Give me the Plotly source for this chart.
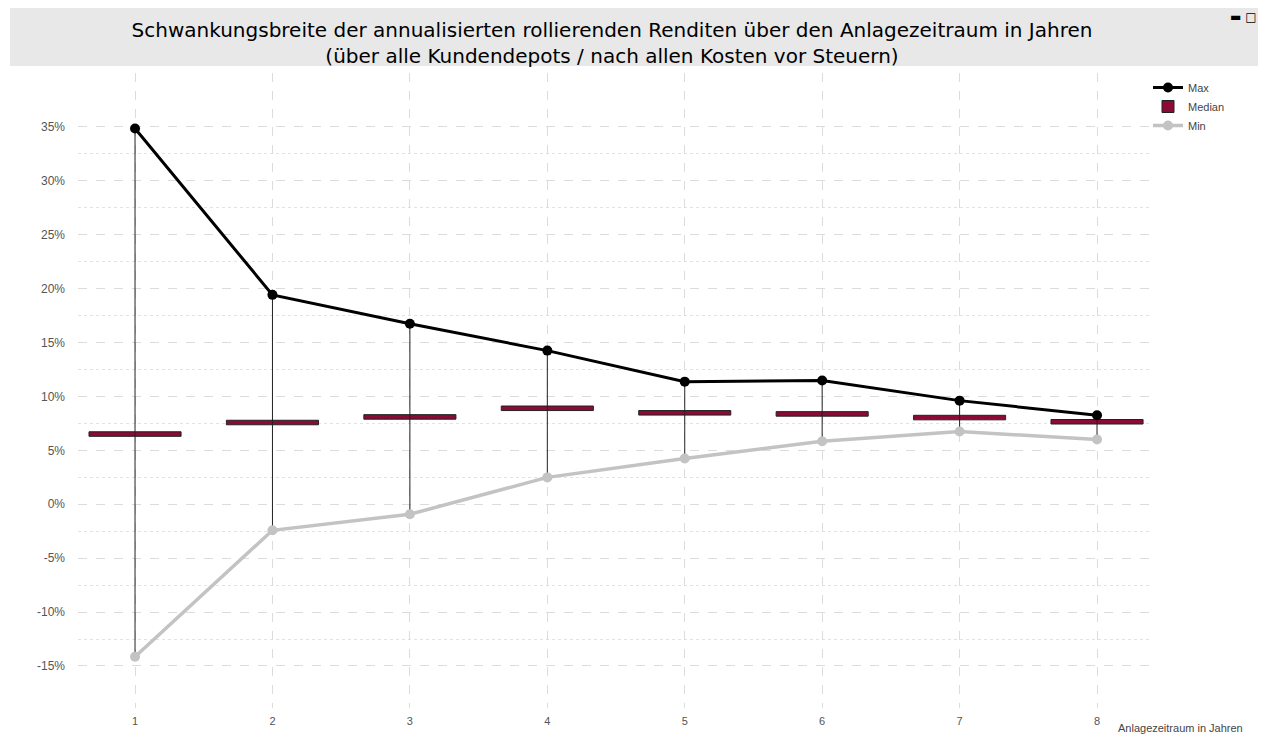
import plotly.graph_objects as go

years = [1, 2, 3, 4, 5, 6, 7, 8]
max_vals = [34.85, 19.42, 16.74, 14.25, 11.37, 11.47, 9.61, 8.25]
median_vals = [6.51, 7.58, 8.10, 8.90, 8.48, 8.38, 8.04, 7.65]
min_vals = [-14.14, -2.42, -0.93, 2.49, 4.25, 5.85, 6.75, 6.00]

y_ticks = [-15, -10, -5, 0, 5, 10, 15, 20, 25, 30, 35]
y_tick_labels = [f"{v}%" for v in y_ticks]
y_minor = [-12.5, -7.5, -2.5, 2.5, 7.5, 12.5, 17.5, 22.5, 27.5, 32.5]

title_text = ("Schwankungsbreite der annualisierten rollierenden Renditen über den Anlagezeitraum in Jahren"
              "<br>(über alle Kundendepots / nach allen Kosten vor Steuern)")
x_title = "Anlagezeitraum in Jahren"

box_thickness = 0.42

fig = go.Figure()

# Median boxes
fig.add_trace(go.Bar(
    x=years,
    y=[box_thickness] * len(years),
    base=[m - box_thickness / 2 for m in median_vals],
    width=0.67,
    marker=dict(color="#8b0a37", line=dict(color="#222222", width=1)),
    name="Median",
    legendrank=2,
    hoverinfo="skip",
))

# Whiskers from min to max
wx, wy = [], []
for x, lo, hi in zip(years, min_vals, max_vals):
    wx += [x, x, None]
    wy += [lo, hi, None]
fig.add_trace(go.Scatter(
    x=wx, y=wy, mode="lines",
    line=dict(color="#222222", width=1),
    showlegend=False, hoverinfo="skip",
))

fig.add_trace(go.Scatter(
    x=years, y=min_vals, mode="lines+markers", name="Min",
    line=dict(color="#c3c3c3", width=3.5),
    marker=dict(color="#c3c3c3", size=10),
    legendrank=3,
))
fig.add_trace(go.Scatter(
    x=years, y=max_vals, mode="lines+markers", name="Max",
    line=dict(color="#000000", width=3),
    marker=dict(color="#000000", size=10),
    legendrank=1,
))

# page offset from default body margin
OX, OY = 8, 8
W, H = 1266 - 2 * OX, 743 - 2 * OY
L, T = 78 - OX, 73 - OY
R = W - (1152 - OX)
B = H - (708 - OY)
pw, ph = W - L - R, H - T - B


def px(xp):
    return (xp - OX - L) / pw


def py(yp):
    return 1 - (yp - OY - T) / ph


fig.add_shape(type="rect", xref="paper", yref="paper",
              x0=px(10), x1=px(1258), y0=py(66), y1=py(OY),
              fillcolor="#e8e8e8", line=dict(width=0), layer="below")

fig.update_layout(
    width=W, height=H,
    margin=dict(l=L, r=R, t=T, b=B, pad=0, autoexpand=False),
    paper_bgcolor="white", plot_bgcolor="white",
    barmode="overlay",
    title=dict(text=title_text, x=(612 - OX) / W, xanchor="center", xref="container",
               y=1 - (37 - OY) / H, yanchor="middle", yref="container",
               font=dict(family="DejaVu Sans", size=20, color="#000000")),
    font=dict(family="Liberation Sans, Arial, sans-serif", size=12, color="#555555"),
    legend=dict(x=px(1148), xanchor="left", y=py(73), yanchor="top",
                font=dict(size=11, color="#444444"),
                bgcolor="rgba(0,0,0,0)", itemwidth=30, tracegroupgap=0),
    xaxis=dict(range=[0.585, 8.4], tickmode="array", tickvals=years,
               ticktext=[str(y) for y in years], automargin=False,
               showgrid=True, gridcolor="#dcdcdc", griddash="dash", gridwidth=1,
               zeroline=False, showline=False, ticks="", ticklabelstandoff=5,
               tickfont=dict(size=11, color="#555555")),
    yaxis=dict(range=[-18.9, 40], tickmode="array", tickvals=y_ticks, ticktext=y_tick_labels,
               automargin=False,
               showgrid=True, gridcolor="#dcdcdc", griddash="dash", gridwidth=1,
               minor=dict(tickmode="array", tickvals=y_minor, showgrid=True,
                          gridcolor="#e2e2e2", griddash="dot", gridwidth=1),
               zeroline=False, showline=False, ticks="", ticklabelstandoff=12,
               tickfont=dict(size=12, color="#555555")),
    annotations=[
        dict(text=x_title, xref="paper", yref="paper", x=px(1245), xanchor="right",
             y=py(728), yanchor="middle", showarrow=False,
             font=dict(size=11, color="#444444")),
        dict(text="▬ □", xref="paper", yref="paper", x=px(1243), xanchor="center",
             y=py(17), yanchor="middle", showarrow=False,
             font=dict(family="DejaVu Sans", size=12, color="#000000")),
    ],
)

fig.write_html("out.html")
